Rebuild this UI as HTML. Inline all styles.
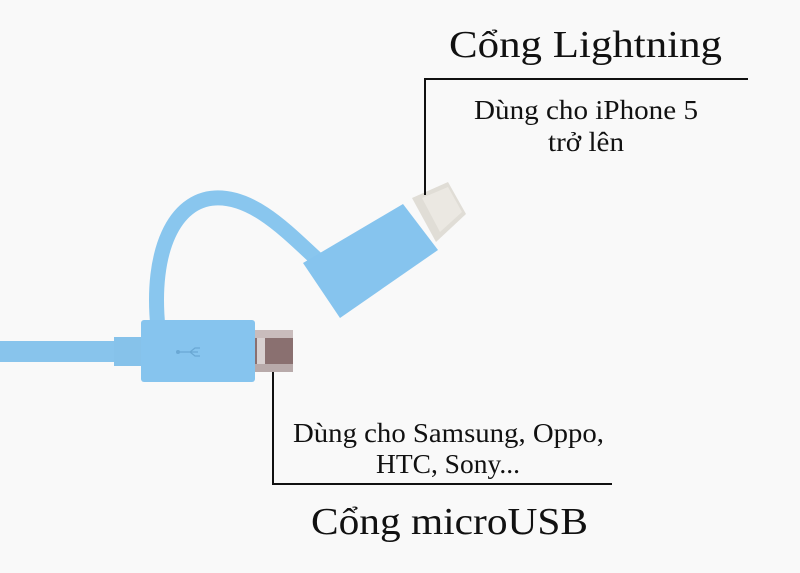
<!DOCTYPE html>
<html><head><meta charset="utf-8"><style>
html,body{margin:0;padding:0;background:#f9f9f9;}
svg{display:block}
text{font-family:"Liberation Serif","DejaVu Serif",serif;fill:#111;}
</style></head><body>
<svg width="800" height="573" viewBox="0 0 800 573" xmlns="http://www.w3.org/2000/svg">
<rect width="800" height="573" fill="#f9f9f9"/>
<rect x="0" y="341" width="115" height="21" fill="#88c4ec"/>
<rect x="114" y="337" width="30" height="29" fill="#86c2ea"/>
<path d="M158 328 C150 250 175 200 215 198 C255 196 290 235 320 262" fill="none" stroke="#89c6ee" stroke-width="15" stroke-linecap="round"/>
<rect x="141" y="320" width="114" height="62" rx="3" fill="#86c4ee"/>
<path d="M178 352 h20 M190 352 l5 -4 h5 M190 352 l5 4 h5" stroke="#6aa8d4" stroke-width="1.3" fill="none"/>
<circle cx="178" cy="352" r="2" fill="#6aa8d4"/>
<rect x="255" y="330" width="38" height="42" fill="#8a7070"/>
<rect x="255" y="330" width="38" height="8" fill="#c9bcbc"/>
<rect x="255" y="364" width="38" height="8" fill="#b8aaaa"/>
<rect x="257" y="338" width="8" height="26" fill="#d8d0d0"/>
<polygon points="303,263 403,204 438,250 340,318" fill="#86c4ee"/>
<polygon points="412,198 448,182 466,214 436,242" fill="#e0ddd6"/>
<polygon points="422,198 448,187 462,212 440,232" fill="#ebe8e2"/>
<path d="M425 195 V79 H748" fill="none" stroke="#111" stroke-width="2"/>
<path d="M273 372 V484 H612" fill="none" stroke="#111" stroke-width="2"/>
<text x="449" y="57" font-size="38" textLength="273" lengthAdjust="spacingAndGlyphs">Cổng Lightning</text>
<text x="474" y="119" font-size="27" textLength="224" lengthAdjust="spacingAndGlyphs">Dùng cho iPhone 5</text>
<text x="548" y="151" font-size="27" textLength="76" lengthAdjust="spacingAndGlyphs">trở lên</text>
<text x="293" y="442" font-size="27" textLength="311" lengthAdjust="spacingAndGlyphs">Dùng cho Samsung, Oppo,</text>
<text x="376" y="473" font-size="27" textLength="144" lengthAdjust="spacingAndGlyphs">HTC, Sony...</text>
<text x="311" y="534" font-size="38" textLength="277" lengthAdjust="spacingAndGlyphs">Cổng microUSB</text>
</svg>
</body></html>
